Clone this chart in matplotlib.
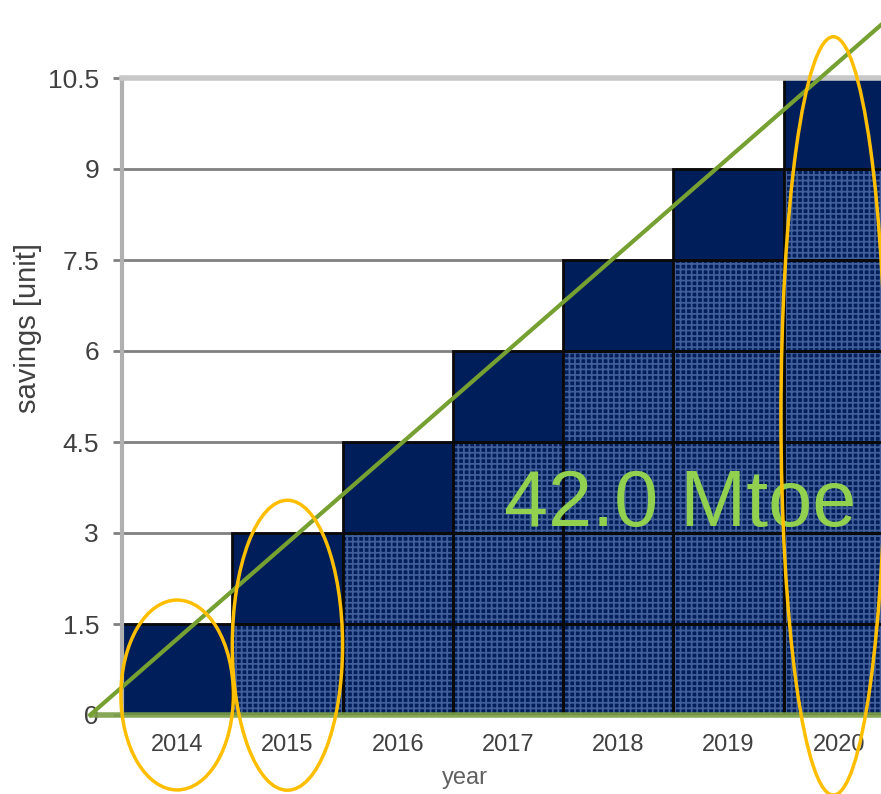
import matplotlib
matplotlib.use('Agg')
import matplotlib.pyplot as plt
from matplotlib.patches import Ellipse

# Daten
years = ['2014', '2015', '2016', '2017', '2018', '2019', '2020']
annual_saving = [1.5, 1.5, 1.5, 1.5, 1.5, 1.5, 1.5]
y_ticks = [0, 1.5, 3, 4.5, 6, 7.5, 9, 10.5]
y_tick_labels = ['0', '1.5', '3', '4.5', '6', '7.5', '9', '10.5']
trend_x = [-0.79, 6.6]
trend_y = [0.0, 11.72]
total_label = '42.0 Mtoe'

NAVY = '#001e5a'
CHECK = '#3f5e9a'
GREEN = '#76a031'
GOLD = '#ffbf00'

plt.rcParams['font.family'] = ['Liberation Sans', 'DejaVu Sans']
plt.rcParams['hatch.linewidth'] = 1.3

fig = plt.figure(figsize=(8.81, 7.94), dpi=100)
ax = fig.add_axes([122 / 881, 79 / 794, 772 / 881, 637 / 794])

# Blöcke: jedes Jahr trägt die Einsparungen aller bisherigen Jahre
for i, year in enumerate(years):
    bottom = 0.0
    for j in range(i + 1):
        h = annual_saving[j]
        if j == i:
            ax.bar(i, h, bottom=bottom, width=1.0, color=NAVY,
                   edgecolor='#0a0a0a', linewidth=2, zorder=2)
        else:
            ax.bar(i, h, bottom=bottom, width=1.0, color=NAVY,
                   edgecolor=CHECK, hatch='+++', linewidth=0, zorder=2)
            ax.bar(i, h, bottom=bottom, width=1.0, fill=False,
                   edgecolor='#0a0a0a', linewidth=2, zorder=2.5)
        bottom += h

# Achsen
ax.set_xlim(-0.5, 6.5)
ax.set_ylim(0, 10.5)
ax.set_yticks(y_ticks)
ax.set_yticklabels(y_tick_labels, fontsize=19, color='#404040')
ax.set_xticks(range(len(years)))
ax.set_xticklabels(years, fontsize=17, color='#404040')
ax.tick_params(axis='x', length=0, pad=14)
ax.tick_params(axis='y', length=6.5, width=2, color='#808080', pad=10)

ax.grid(axis='y', color='#808080', linewidth=2, zorder=0)
ax.set_axisbelow(True)
for side in ['right', 'bottom']:
    ax.spines[side].set_visible(False)
ax.spines['left'].set_color('#b0b0b0')
ax.spines['left'].set_linewidth(3)
ax.spines['top'].set_color('#c8c8c8')
ax.spines['top'].set_linewidth(4)

ax.set_xlabel('year', fontsize=17, color='#606060')
ax.set_ylabel('savings [unit]', fontsize=21, color='#404040')
ax.xaxis.set_label_coords((465 - 122) / 772, -52 / 637)
ax.yaxis.set_label_coords(-80 / 772, (715 - 328) / 637)

# grüne Linien
ax.plot([trend_x[0], 6.6], [0, 0], color='#7a9e45', linewidth=4,
        alpha=0.9, clip_on=False, zorder=4, solid_capstyle='butt')
ax.plot(trend_x, trend_y, color=GREEN, linewidth=3, clip_on=False, zorder=5)

ax.text(4.56, 3.45, total_label, fontsize=57, color='#92d050',
        ha='center', va='center', zorder=6)

# Markierungen
for (cx, cy, w, h) in [(0.0, 0.33, 1.02, 3.13),
                       (1.0, 1.15, 1.0, 4.78),
                       (5.95, 4.93, 0.95, 12.5)]:
    ax.add_patch(Ellipse((cx, cy), w, h, fill=False, edgecolor=GOLD,
                         linewidth=2.5, clip_on=False, zorder=7))

plt.savefig('out.png', dpi=100)
plt.close()
